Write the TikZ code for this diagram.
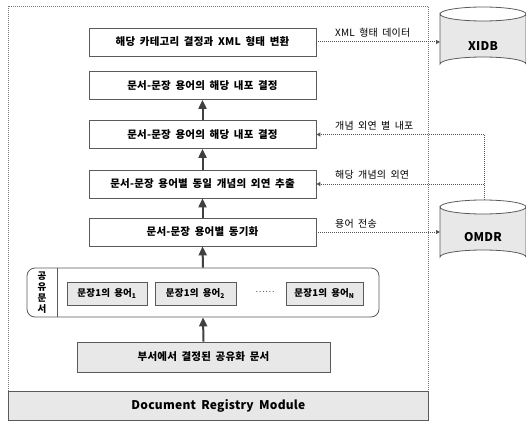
\documentclass[tikz,border=0pt]{standalone}
\usepackage{fontspec}
\setmainfont{Noto Sans CJK KR}[WordSpace=1.8,LetterSpace=2]
\usetikzlibrary{arrows.meta}
\definecolor{boxline}{HTML}{5A5A5A}
\definecolor{grayfill}{HTML}{E8E8E8}
\definecolor{dotcol}{HTML}{555555}
\definecolor{arrcol}{HTML}{404040}
\begin{document}
\begin{tikzpicture}[x=1pt,y=-1pt,
  stepbox/.style={draw=boxline,line width=0.8pt,fill=white,minimum width=227pt,minimum height=28pt,inner sep=0pt,font=\fontsize{10.5}{12}\selectfont\bfseries},
  subbox/.style={draw=boxline,line width=0.8pt,fill=grayfill,minimum height=23pt,inner sep=0pt,font=\fontsize{9.5}{11}\selectfont\bfseries},
  uparrow/.style={draw=arrcol,line width=2pt,-{Triangle[width=8pt,length=9pt]}},
  dotarrow/.style={draw=dotcol,line width=1pt,dash pattern=on 1pt off 1pt,-{Triangle[width=4pt,length=4pt]}},
  dotline/.style={draw=dotcol,line width=1pt,dash pattern=on 1pt off 1pt},
  lbl/.style={font=\fontsize{10}{11}\selectfont,anchor=west,inner sep=0pt},
  db/.style={draw=boxline,line width=0.8pt,fill=grayfill}
]
\useasboundingbox (0,0) rectangle (526,420);
% frame
\draw[dotline,line width=0.8pt,draw=dotcol!80] (8,6) rectangle (428,420);
\node[draw=boxline,line width=0.8pt,fill=grayfill,minimum width=420pt,minimum height=29pt,inner sep=0pt,anchor=north west,font=\fontsize{12}{14}\selectfont\bfseries] (drm) at (8,391) {Document Registry Module};

% step boxes
\node[stepbox] (b1) at (202.5,42) {해당 카테고리 결정과 XML 형태 변환};
\node[stepbox] (b2) at (202.5,85.5) {문서-문장 용어의 해당 내포 결정};
\node[stepbox] (b3) at (202.5,134.5) {문서-문장 용어의 해당 내포 결정};
\node[stepbox] (b4) at (202.5,184) {문서-문장 용어별 동일 개념의 외연 추출};
\node[stepbox] (b5) at (202.5,232) {문서-문장 용어별 동기화};

% shared document group
\node[draw=boxline,line width=0.8pt,fill=white,rounded corners=8pt,minimum width=352pt,minimum height=49pt,inner sep=0pt] (grp) at (203,292.5) {};
\draw[boxline,line width=0.8pt] (57,268) -- (57,317);
\node[font=\fontsize{9.5}{11.2}\selectfont\bfseries,align=center,inner sep=0pt] (glbl) at (42,292.5) {공\\유\\문\\서};
\node[subbox,minimum width=80pt] (s1) at (107,293.5) {문장1의 용어\textsubscript{1}};
\node[subbox,minimum width=81pt] (s2) at (195.5,293.5) {문장1의 용어\textsubscript{2}};
\node[font=\fontsize{9}{10}\selectfont,text=dotcol] (dots) at (265,292) {……};
\node[subbox,minimum width=77pt] (sN) at (324.5,293.5) {문장1의 용어\textsubscript{N}};

% bottom box
\node[draw=boxline,line width=0.8pt,fill=grayfill,minimum width=253pt,minimum height=30pt,inner sep=0pt,font=\fontsize{10.5}{12}\selectfont\bfseries] (src) at (203.5,357) {부서에서 결정된 공유화 문서};

% vertical arrows
\draw[uparrow] (b3.north) -- (b2.south);
\draw[uparrow] (b4.north) -- (b3.south);
\draw[uparrow] (b5.north) -- (b4.south);
\draw[uparrow] (grp.north) -- (b5.south);
\draw[uparrow] (src.north) -- (grp.south);

% cylinders
\path[db] (440,14) -- (440,64) arc[start angle=180,end angle=360,x radius=43,y radius=7] -- (526,14) arc[start angle=0,end angle=180,x radius=43,y radius=7] -- cycle;
\draw[db,fill=none] (440,14) arc[start angle=180,end angle=360,x radius=43,y radius=7];
\node[font=\fontsize{12}{14}\selectfont\bfseries,inner sep=0pt] (xidb) at (483,46) {XIDB};
\coordinate (xidbL) at (440,42);

\path[db] (440,207) -- (440,257) arc[start angle=180,end angle=360,x radius=43,y radius=7] -- (526,207) arc[start angle=0,end angle=180,x radius=43,y radius=7] -- cycle;
\draw[db,fill=none] (440,207) arc[start angle=180,end angle=360,x radius=43,y radius=7];
\node[font=\fontsize{12}{14}\selectfont\bfseries,inner sep=0pt] (omdr) at (483,237) {OMDR};
\coordinate (omdrL) at (440,232);
\coordinate (omdrT) at (484,200);
\coordinate (j1) at (484,134.5);
\coordinate (j2) at (484,184);

% dotted connectors
\draw[dotarrow] (b1.east) -- (xidbL);
\node[lbl] (l1) at (335,33) {XML 형태 데이터};
\draw[dotline] (omdrT) -- (j1);
\draw[dotarrow] (j1) -- (b3.east);
\node[lbl] (l3) at (335,126) {개념 외연 별 내포};
\draw[dotarrow] (j2) -- (b4.east);
\node[lbl] (l4) at (335,175) {해당 개념의 외연};
\draw[dotarrow] (b5.east) -- (omdrL);
\node[lbl] (l5) at (335,224) {용어 전송};
\end{tikzpicture}
\end{document}
